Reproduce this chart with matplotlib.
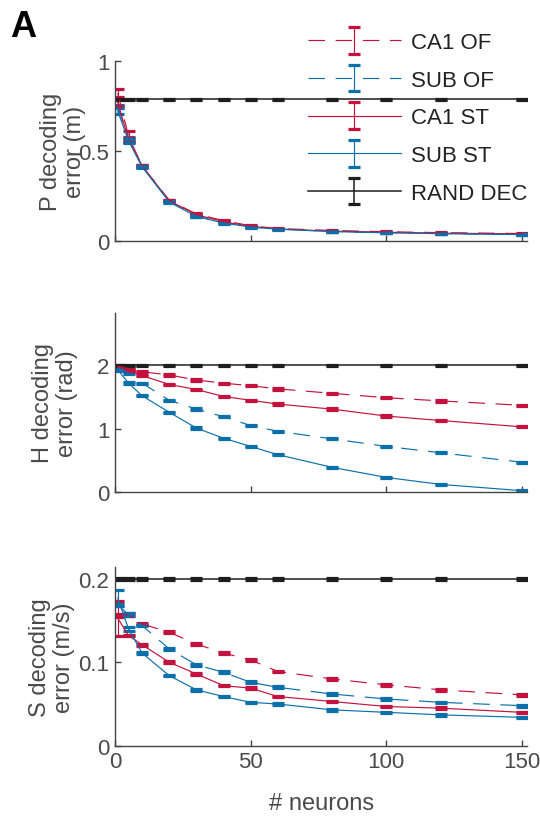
import matplotlib
matplotlib.use("Agg")
import matplotlib.pyplot as plt
from matplotlib.ticker import FormatStrFormatter
from matplotlib.legend_handler import HandlerErrorbar
from matplotlib.container import ErrorbarContainer

plt.rcParams['font.family'] = ['Liberation Sans', 'DejaVu Sans']

# number of neurons used by the decoder
n_neurons = [1, 5, 10, 20, 30, 40, 50, 60, 80, 100, 120, 150]

# position decoding error (m)
p_ca1_of = [0.82, 0.58, 0.415, 0.225, 0.148, 0.112, 0.083, 0.068, 0.057, 0.050, 0.045, 0.040]
p_sub_of = [0.745, 0.565, 0.413, 0.218, 0.138, 0.100, 0.077, 0.065, 0.052, 0.045, 0.040, 0.035]
p_ca1_st = [0.77, 0.56, 0.415, 0.222, 0.145, 0.105, 0.080, 0.065, 0.053, 0.047, 0.042, 0.038]
p_sub_st = [0.72, 0.555, 0.410, 0.215, 0.135, 0.098, 0.076, 0.064, 0.051, 0.044, 0.039, 0.034]
p_rand = [0.785] * 12
p_err_ca1_of = [0.023, 0.03, 0.005, 0.004, 0.004, 0.003, 0.003, 0.002, 0.002, 0.002, 0.002, 0.002]
p_err_sub_of = [0.01, 0.012, 0.005, 0.004, 0.004, 0.003, 0.003, 0.002, 0.002, 0.002, 0.002, 0.002]
p_err_ca1_st = [0.022, 0.01, 0.005, 0.004, 0.004, 0.003, 0.003, 0.002, 0.002, 0.002, 0.002, 0.002]
p_err_sub_st = [0.018, 0.01, 0.005, 0.004, 0.004, 0.003, 0.003, 0.002, 0.002, 0.002, 0.002, 0.002]
p_err_rand = [0.003] * 12

# head direction decoding error (rad)
h_ca1_of = [1.99, 1.95, 1.90, 1.85, 1.77, 1.72, 1.68, 1.63, 1.56, 1.49, 1.44, 1.37]
h_sub_of = [1.97, 1.88, 1.72, 1.45, 1.31, 1.19, 1.05, 0.96, 0.84, 0.72, 0.62, 0.47]
h_ca1_st = [1.98, 1.92, 1.84, 1.70, 1.62, 1.51, 1.45, 1.39, 1.31, 1.20, 1.13, 1.03]
h_sub_st = [1.93, 1.72, 1.52, 1.26, 1.01, 0.85, 0.72, 0.59, 0.39, 0.23, 0.12, 0.02]
h_rand = [2.0] * 12
h_err_ca1_of = [0.015, 0.012] + [0.01] * 10
h_err_sub_of = [0.02, 0.012] + [0.01] * 10
h_err_ca1_st = [0.015, 0.012] + [0.01] * 10
h_err_sub_st = [0.02, 0.012] + [0.01] * 10
h_err_rand = [0.01] * 12

# speed decoding error (m/s)
s_ca1_of = [0.156, 0.157, 0.146, 0.136, 0.122, 0.111, 0.103, 0.089, 0.080, 0.073, 0.067, 0.061]
s_sub_of = [0.169, 0.157, 0.144, 0.116, 0.097, 0.088, 0.076, 0.070, 0.062, 0.056, 0.052, 0.048]
s_ca1_st = [0.153, 0.132, 0.121, 0.100, 0.086, 0.072, 0.069, 0.059, 0.053, 0.047, 0.045, 0.040]
s_sub_st = [0.177, 0.140, 0.111, 0.084, 0.067, 0.059, 0.052, 0.050, 0.043, 0.040, 0.037, 0.034]
s_rand = [0.2] * 12
s_err_ca1_of = [0.002, 0.002] + [0.001] * 10
s_err_sub_of = [0.002, 0.002] + [0.001] * 10
s_err_ca1_st = [0.021, 0.001] + [0.001] * 10
s_err_sub_st = [0.010, 0.002] + [0.001] * 10
s_err_rand = [0.001] * 12

labels = ['CA1 OF', 'SUB OF', 'CA1 ST', 'SUB ST', 'RAND DEC']
red = '#C4123E'
blue = '#0B70AA'
black = '#1e1e1e'
colors = [red, blue, red, blue, black]
dashed = (0, (14, 9))
styles = [dashed, dashed, '-', '-', '-']

panels = [
    dict(vals=[p_ca1_of, p_sub_of, p_ca1_st, p_sub_st, p_rand],
         errs=[p_err_ca1_of, p_err_sub_of, p_err_ca1_st, p_err_sub_st, p_err_rand],
         ylabel='P decoding\nerror (m)', ylim=(0, 1.0), yticks=[0, 0.5, 1],
         pos=[0.213, 0.7052, 0.7637, 0.2195], labx=-0.07),
    dict(vals=[h_ca1_of, h_sub_of, h_ca1_st, h_sub_st, h_rand],
         errs=[h_err_ca1_of, h_err_sub_of, h_err_ca1_st, h_err_sub_st, h_err_rand],
         ylabel='H decoding\nerror (rad)', ylim=(0, 2.83), yticks=[0, 1, 2],
         pos=[0.213, 0.3988, 0.7637, 0.2183], labx=-0.09),
    dict(vals=[s_ca1_of, s_sub_of, s_ca1_st, s_sub_st, s_rand],
         errs=[s_err_ca1_of, s_err_sub_of, s_err_ca1_st, s_err_sub_st, s_err_rand],
         ylabel='S decoding\nerror (m/s)', ylim=(0, 0.214), yticks=[0, 0.1, 0.2],
         pos=[0.213, 0.0894, 0.7637, 0.2176], labx=-0.097),
]

grey = '#444444'
fig = plt.figure(figsize=(5.4, 8.2), dpi=100)

for k, p in enumerate(panels):
    ax = fig.add_axes(p['pos'])
    handles = []
    for vals, errs, c, ls, lab in zip(p['vals'], p['errs'], colors, styles, labels):
        lw = 1.1 if c == black else 0.85
        h = ax.errorbar(n_neurons, vals, yerr=errs, color=c, ls=ls, lw=lw,
                        elinewidth=lw, capsize=4.6, capthick=2.3, label=lab)
        handles.append(h)
    ax.set_xlim(0, 152)
    ax.set_ylim(*p['ylim'])
    ax.set_xticks([0, 50, 100, 150])
    ax.set_yticks(p['yticks'])
    ax.yaxis.set_major_formatter(FormatStrFormatter('%g'))
    for s in ['top', 'right']:
        ax.spines[s].set_visible(False)
    for s in ['left', 'bottom']:
        ax.spines[s].set_color(grey)
        ax.spines[s].set_linewidth(1.0)
    ax.tick_params(direction='in', length=4.5, width=1, colors=grey,
                   labelsize=16, labelcolor='#4a4a4a', pad=4)
    if k < 2:
        ax.tick_params(axis='x', labelbottom=False)
    else:
        ax.set_xlabel('# neurons', fontsize=17, color='#4a4a4a', labelpad=14)
    ax.set_ylabel(p['ylabel'], fontsize=17, color='#4a4a4a', linespacing=1.1)
    ax.yaxis.set_label_coords(p['labx'], 0.5)

    if k == 0:
        leg = ax.legend(handles=handles, labels=labels, loc='upper right',
                        bbox_to_anchor=(1.0, 1.16), frameon=False, fontsize=16,
                        handlelength=4.2, handletextpad=0.45, labelspacing=0.75,
                        borderaxespad=0, borderpad=0,
                        handler_map={ErrorbarContainer: HandlerErrorbar(yerr_size=0.6)})
        for t in leg.get_texts():
            t.set_color('#222222')
        leg.set_zorder(1)

fig.text(0.018, 0.988, 'A', fontsize=26, fontweight='bold', va='top', ha='left')

fig.savefig('out.png', dpi=100)
